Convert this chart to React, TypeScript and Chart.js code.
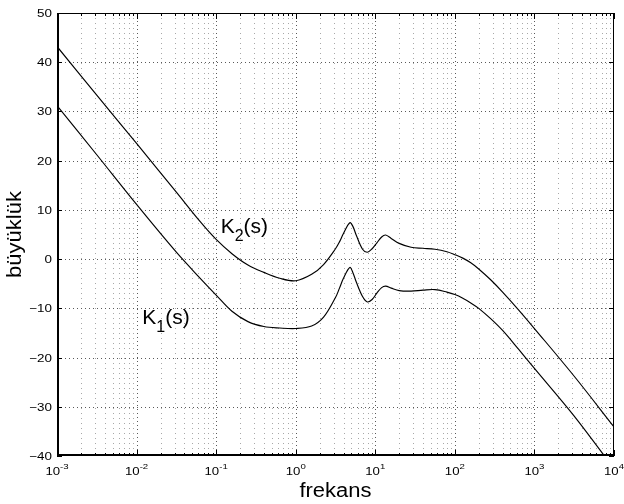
import React, { useEffect, useRef } from 'react';
import { Chart, registerables } from 'chart.js';

Chart.register(...registerables);

// ---- data ----
const FREQ = [
  0.001, 0.00316, 0.01, 0.0316, 0.0631, 0.1, 0.158, 0.251, 0.398, 0.631, 1,
  1.585, 2.239, 3.162, 3.548, 3.981, 4.786, 5.248, 5.754, 6.918, 7.943, 9.12,
  10.47, 12.02, 13.49, 15.85, 19.95, 28.18, 39.81, 56.23, 79.43, 100, 125.9,
  158.5, 199.5, 281.8, 398.1, 631, 1000, 3162, 10000,
];
const K2 = [
  43.2, 33.3, 23.5, 13.6, 7.6, 4.0, 1.1, -1.2, -2.7, -3.9, -4.4,
  -3.1, -1.1, 2.1, 3.5, 5.2, 7.4, 6.6, 4.9, 2.0, 1.4, 2.1,
  3.3, 4.5, 4.9, 4.2, 3.2, 2.4, 2.2, 2.0, 1.5, 0.9, 0.2,
  -0.75, -2.0, -4.2, -6.7, -10.3, -14.1, -23.8, -34.1,
];
const K1 = [
  31.2, 21.2, 11.1, 1.4, -3.9, -7.3, -10.6, -12.7, -13.7, -14.0, -14.1,
  -13.6, -11.8, -7.8, -5.9, -3.9, -1.7, -2.8, -4.6, -7.6, -8.7, -8.2,
  -6.9, -5.8, -5.5, -5.9, -6.4, -6.5, -6.3, -6.2, -6.7, -7.2, -7.95,
  -8.9, -10.0, -12.1, -14.5, -18.3, -22.2, -31.9, -42.6,
];
const Y_TICKS = [-40, -30, -20, -10, 0, 10, 20, 30, 40, 50];
const X_DECADES = [-3, -2, -1, 0, 1, 2, 3, 4];
const X_TITLE = 'frekans';
const Y_TITLE = 'büyüklük';
const CURVE_LABELS = [
  { main: 'K', sub: '2', tail: '(s)', x: 0.114, y: 5.4 },
  { main: 'K', sub: '1', tail: '(s)', x: 0.0118, y: -13.1 },
];

const FONT = '"Liberation Sans", Arial, Helvetica, sans-serif';

function measure(ctx: CanvasRenderingContext2D, s: string, size: number, sx: number) {
  ctx.font = `${size}px ${FONT}`;
  return ctx.measureText(s).width * sx;
}

function drawText(
  ctx: CanvasRenderingContext2D,
  s: string,
  x: number,
  y: number,
  size: number,
  align: 'left' | 'center' | 'right',
  sx = 1,
  baseline: CanvasTextBaseline = 'alphabetic'
) {
  const w = measure(ctx, s, size, sx);
  const x0 = align === 'left' ? x : align === 'center' ? x - w / 2 : x - w;
  ctx.save();
  ctx.translate(x0, y);
  ctx.scale(sx, 1);
  ctx.textAlign = 'left';
  ctx.textBaseline = baseline;
  ctx.fillStyle = '#000';
  ctx.fillText(s, 0, 0);
  ctx.restore();
  return w;
}

const matlabAxes = {
  id: 'matlabAxes',
  beforeDatasetsDraw(chart: any) {
    const { ctx, chartArea } = chart;
    const { left, right, top, bottom } = chartArea;
    const xs = chart.scales.x;
    const ys = chart.scales.y;
    ctx.save();
    ctx.lineWidth = 1;
    for (let d = X_DECADES[0]; d < X_DECADES[X_DECADES.length - 1]; d++) {
      for (let m = 1; m <= 9; m++) {
        const v = m * Math.pow(10, d);
        const px = Math.round(xs.getPixelForValue(v)) + 0.5;
        if (px <= left + 1 || px >= right - 1) continue;
        ctx.strokeStyle = m === 1 ? '#5a5a5a' : '#a8a8a8';
        ctx.setLineDash(m === 1 ? [1, 3] : [1, 4]);
        ctx.beginPath();
        ctx.moveTo(px, top);
        ctx.lineTo(px, bottom);
        ctx.stroke();
      }
    }
    ctx.strokeStyle = '#5a5a5a';
    ctx.setLineDash([1, 3]);
    for (const t of Y_TICKS) {
      const py = Math.round(ys.getPixelForValue(t)) + 0.5;
      if (py <= top + 1 || py >= bottom - 1) continue;
      ctx.beginPath();
      ctx.moveTo(left, py);
      ctx.lineTo(right, py);
      ctx.stroke();
    }
    ctx.restore();
  },
  afterDatasetsDraw(chart: any) {
    const { ctx, chartArea } = chart;
    const { left, right, top, bottom } = chartArea;
    const xs = chart.scales.x;
    const ys = chart.scales.y;
    ctx.save();
    ctx.setLineDash([]);
    ctx.strokeStyle = '#000';
    ctx.lineWidth = 1;
    ctx.strokeRect(left + 0.5, top + 0.5, right - left - 1, bottom - top - 1);
    ctx.lineWidth = 2;
    ctx.beginPath();
    ctx.moveTo(left + 1, top);
    ctx.lineTo(left + 1, bottom);
    ctx.moveTo(left, bottom - 1);
    ctx.lineTo(right, bottom - 1);
    ctx.stroke();
    ctx.lineWidth = 1;
    for (let d = X_DECADES[0]; d <= X_DECADES[X_DECADES.length - 1]; d++) {
      for (let m = 1; m <= 9; m++) {
        const v = m * Math.pow(10, d);
        if (v > 1.0001 * Math.pow(10, X_DECADES[X_DECADES.length - 1])) break;
        const px = Math.round(xs.getPixelForValue(v)) + 0.5;
        const len = m === 1 ? 6 : 3;
        ctx.beginPath();
        ctx.moveTo(px, bottom);
        ctx.lineTo(px, bottom - len);
        ctx.moveTo(px, top);
        ctx.lineTo(px, top + len);
        ctx.stroke();
      }
    }
    for (const t of Y_TICKS) {
      const py = Math.round(ys.getPixelForValue(t)) + 0.5;
      ctx.beginPath();
      ctx.moveTo(left, py);
      ctx.lineTo(left + 5, py);
      ctx.moveTo(right, py);
      ctx.lineTo(right - 5, py);
      ctx.stroke();
    }
    for (const t of Y_TICKS) {
      const py = ys.getPixelForValue(t);
      const s = t < 0 ? '\u2212' + Math.abs(t) : String(t);
      drawText(ctx, s, left - 5, py + 1, 11, 'right', 1.22, 'middle');
    }
    for (const d of X_DECADES) {
      const px = xs.getPixelForValue(Math.pow(10, d));
      const exp = d < 0 ? '-' + Math.abs(d) : String(d);
      const wb = measure(ctx, '10', 11, 1.2);
      const we = measure(ctx, exp, 8, 1.2);
      const x0 = px - (wb + we) / 2;
      drawText(ctx, '10', x0, bottom + 19, 11, 'left', 1.2);
      drawText(ctx, exp, x0 + wb, bottom + 13, 8, 'left', 1.2);
    }
    drawText(ctx, X_TITLE, (left + right) / 2, 497, 20, 'center', 1.1);
    ctx.save();
    ctx.translate(21, (top + bottom) / 2);
    ctx.rotate(-Math.PI / 2);
    drawText(ctx, Y_TITLE, 0, 0, 20, 'center', 1.1);
    ctx.restore();
    for (const lb of CURVE_LABELS) {
      const px = xs.getPixelForValue(lb.x);
      const py = ys.getPixelForValue(lb.y);
      let cx = px;
      cx += drawText(ctx, lb.main, cx, py, 21, 'left', 1);
      cx += drawText(ctx, lb.sub, cx, py + 8, 16, 'left', 1);
      drawText(ctx, lb.tail, cx, py, 21, 'left', 1);
    }
    ctx.restore();
  },
};

export default function App() {
  const ref = useRef<HTMLCanvasElement>(null);
  useEffect(() => {
    const canvas = ref.current!;
    const mk = (label: string, vals: number[]) => ({
      label,
      data: FREQ.map((f, i) => ({ x: f, y: vals[i] })),
      borderColor: '#000',
      borderWidth: 1.15,
      pointRadius: 0,
      fill: false,
      tension: 0.35,
    });
    const chart = new Chart(canvas, {
      type: 'line',
      data: { datasets: [mk('K2(s)', K2), mk('K1(s)', K1)] },
      options: {
        responsive: false,
        animation: false,
        devicePixelRatio: 1,
        layout: { padding: { left: 57, right: 10, top: 13, bottom: 48 } },
        plugins: { legend: { display: false }, tooltip: { enabled: false } },
        scales: {
          x: { type: 'logarithmic', min: 0.001, max: 10000, display: false },
          y: { type: 'linear', min: -40, max: 50, display: false },
        },
      } as any,
      plugins: [matlabAxes as any],
    });
    return () => chart.destroy();
  }, []);
  return (
    <div style={{ position: 'fixed', left: 0, top: 0, width: 624, height: 504, background: '#fff' }}>
      <canvas ref={ref} width={624} height={504} style={{ display: 'block' }} />
    </div>
  );
}
